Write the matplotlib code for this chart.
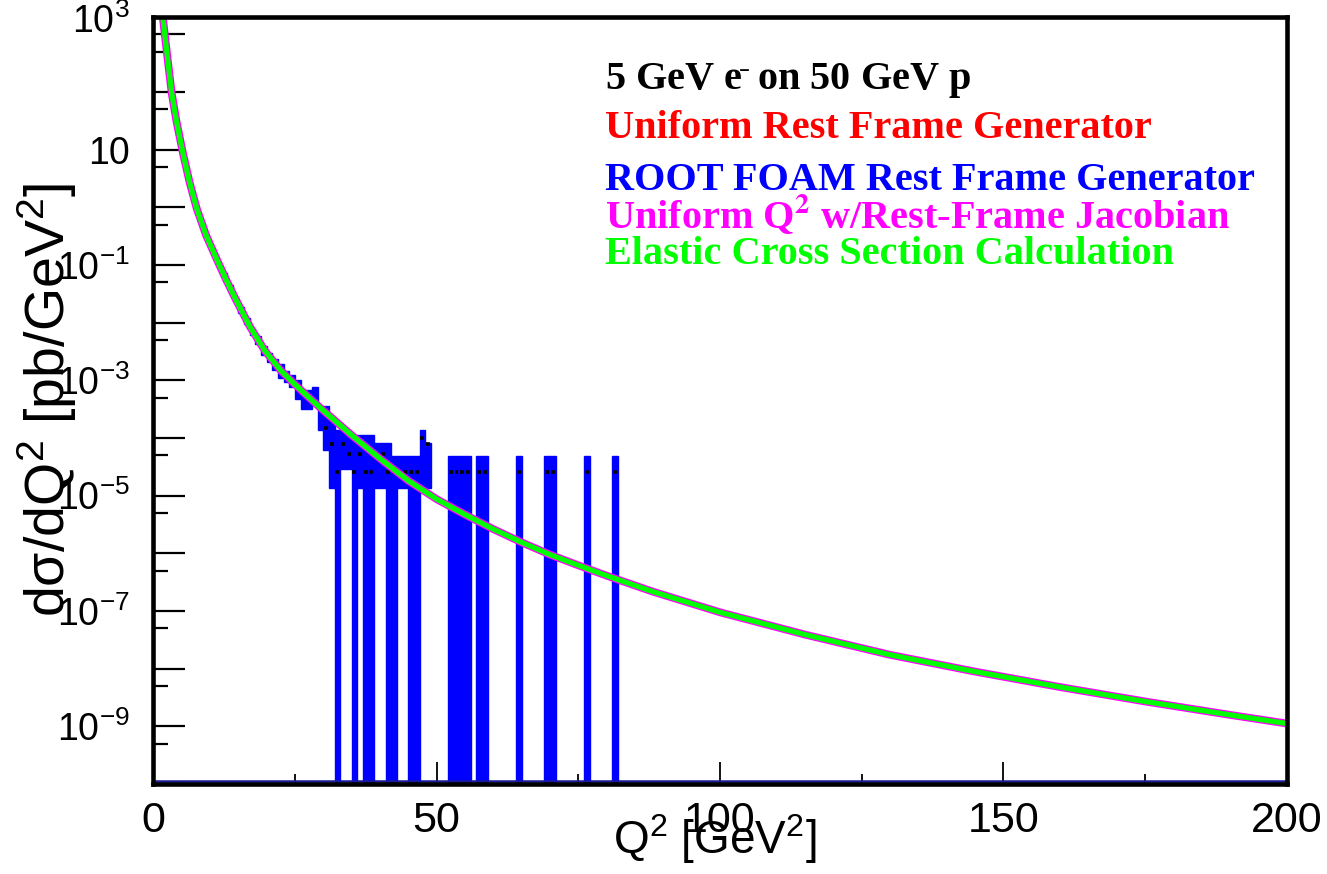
import numpy as np
import matplotlib
matplotlib.use("Agg")
import matplotlib.pyplot as plt
from matplotlib.ticker import LogLocator, FuncFormatter, MultipleLocator, NullFormatter
from matplotlib.transforms import offset_copy, blended_transform_factory

# ---------------- data ----------------
# Elastic cross section curve (Q^2 in GeV^2, dsigma/dQ^2 in pb/GeV^2)
curve_q2 = [1.3, 1.7, 2.33, 3.25, 4.09, 5.19, 6.39, 7.66, 9.3, 11.29, 12.83,
            14.42, 17.06, 19.71, 22.5, 25.0, 27.5, 30.0, 35.0, 40.0, 45.0,
            50.0, 55.0, 60.0, 65.0, 70.0, 75.0, 80.0, 88.0, 100.0, 115.0,
            130.0, 145.0, 160.0, 175.0, 190.0, 200.0]
curve_val = [4.2e3, 1.9e3, 550.0, 95.0, 31.0, 9.1, 2.75, 0.955, 0.331, 0.120,
             5.62e-2, 2.69e-2, 8.5e-3, 3.24e-3, 1.48e-3, 8.5e-4, 5.0e-4, 3.0e-4,
             1.12e-4, 4.4e-5, 1.82e-5, 8.7e-6, 4.7e-6, 2.63e-6, 1.55e-6, 9.5e-7,
             6.2e-7, 4.1e-7, 2.19e-7, 9.5e-8, 3.9e-8, 1.74e-8, 8.9e-9, 4.8e-9,
             2.7e-9, 1.58e-9, 1.12e-9]

# ROOT FOAM generator histogram: error boxes per 1 GeV^2 bin (lower edge, box low, box high)
foam_bin = [12, 13, 14, 15, 16, 17, 18, 19, 20, 21, 22, 23, 24, 25, 26, 27, 28,
            29, 30, 31, 32, 33, 34, 35, 36, 37, 38, 39, 40, 41, 42, 43, 44, 45,
            46, 47, 48, 52, 53, 54, 55, 57, 58, 64, 69, 70, 76, 81]
foam_low = [6.5e-2, 4.0e-2, 2.4e-2, 1.5e-2, 9.5e-3, 6.0e-3, 4.2e-3, 2.8e-3,
            2.1e-3, 1.5e-3, 1.1e-3, 9.5e-4, 7.8e-4, 4.7e-4, 3.2e-4, 3.2e-4,
            4.2e-4, 1.4e-4, 6.3e-5, 1.35e-5, 1e-12, 2.9e-5, 2.9e-5, 1e-12,
            1.35e-5, 1e-12, 1e-12, 1.35e-5, 1.35e-5, 1e-12, 1e-12, 1.35e-5,
            1.35e-5, 1e-12, 1e-12, 1.35e-5, 1.35e-5, 1e-12, 1e-12, 1e-12, 1e-12,
            1e-12, 1e-12, 1e-12, 1e-12, 1e-12, 1e-12, 1e-12]
foam_high = [7.2e-2, 4.5e-2, 2.8e-2, 1.86e-2, 1.2e-2, 7.9e-3, 5.8e-3, 4.0e-3,
             3.0e-3, 2.3e-3, 1.9e-3, 1.45e-3, 1.26e-3, 1.02e-3, 6.9e-4, 6.9e-4,
             7.8e-4, 3.5e-4, 3.6e-4, 1.95e-4, 1.4e-4, 1.4e-4, 1.15e-4, 1.15e-4,
             1.15e-4, 1.15e-4, 1.15e-4, 8.1e-5, 8.1e-5, 8.1e-5, 4.8e-5, 4.8e-5,
             4.8e-5, 4.8e-5, 4.8e-5, 1.4e-4, 8.1e-5, 4.8e-5, 4.8e-5, 4.8e-5,
             4.8e-5, 4.8e-5, 4.8e-5, 4.8e-5, 4.8e-5, 4.8e-5, 4.8e-5, 4.8e-5]

# black bin-content markers
mark_q2 = [30.5, 31.5, 32.5, 33.5, 34.5, 35.5, 36.5, 37.5, 38.5, 39.5, 40.5,
           41.5, 42.5, 43.5, 44.5, 45.5, 46.5, 47.5, 48.5, 52.5, 53.5, 54.5,
           55.5, 57.5, 58.5, 64.5, 69.5, 70.5, 76.5, 81.5]
mark_val = [1.5e-4, 7.8e-5, 2.6e-5, 7.8e-5, 5.2e-5, 2.6e-5, 5.2e-5, 2.6e-5,
            2.6e-5, 5.2e-5, 5.2e-5, 2.6e-5, 2.6e-5, 2.6e-5, 2.6e-5, 2.6e-5,
            2.6e-5, 1.0e-4, 7.8e-5, 2.6e-5, 2.6e-5, 2.6e-5, 2.6e-5, 2.6e-5,
            2.6e-5, 2.6e-5, 2.6e-5, 2.6e-5, 2.6e-5, 2.6e-5]

x_range = (0, 200)
y_range = (1e-10, 2000)
x_label = r"Q$^2$ [GeV$^2$]"
y_label = r"dσ/dQ$^2$ [pb/GeV$^2$]"
legend_lines = [
    ("5 GeV e$^{\\bar{\\,}}$ on 50 GeV p", "black"),
    ("Uniform Rest Frame Generator", "#ff0000"),
    ("ROOT FOAM Rest Frame Generator", "#0000ff"),
    ("Uniform Q$^{\\mathbf{2}}$ w/Rest-Frame Jacobian", "#ff00ff"),
    ("Elastic Cross Section Calculation", "#00ff00"),
]

# ---------------- figure ----------------
plt.rcParams["font.family"] = ["Liberation Sans", "DejaVu Sans"]
plt.rcParams["mathtext.fontset"] = "custom"
plt.rcParams["mathtext.rm"] = "Liberation Sans"
plt.rcParams["mathtext.it"] = "Liberation Sans:italic"
plt.rcParams["mathtext.bf"] = "Liberation Sans:bold"

W, H = 1327, 874
fig = plt.figure(figsize=(W / 100, H / 100), dpi=100)
L, R, T, B = 153.3, 1286.7, 17, 784
ax = fig.add_axes([L / W, (H - B) / H, (R - L) / W, (B - T) / H])
ax.set_yscale("log")
ax.set_xlim(*x_range)
ax.set_ylim(*y_range)

# FOAM histogram error boxes
lo = np.array(foam_low)
hi = np.array(foam_high)
ax.bar(foam_bin, hi - lo, bottom=lo, width=1.0, align="edge",
       color="#0000ff", edgecolor="#0000ff", linewidth=1.0, zorder=2)
# empty bins drawn along the bottom
blue_tr = offset_copy(ax.transData, fig=fig, x=0, y=3.0, units="dots")
ax.plot(x_range, [y_range[0], y_range[0]], color="#1a1a9a", lw=1.8,
        transform=blue_tr, zorder=2, clip_on=False)

# black markers
for q, v in zip(mark_q2, mark_val):
    ax.plot([q - 0.35, q + 0.35], [v, v], color="black", lw=2.6, zorder=3,
            solid_capstyle="butt")

# Uniform generators (underneath) and elastic calculation
ax.plot(curve_q2, curve_val, color="#ff00ff", lw=5.6, zorder=4,
        solid_capstyle="butt", solid_joinstyle="round")
ax.plot(curve_q2, curve_val, color="#00ff00", lw=3.8, zorder=5,
        solid_capstyle="butt", solid_joinstyle="round")

# axes styling
for s in ax.spines.values():
    s.set_linewidth(3.3)
    s.set_zorder(10)

ax.xaxis.set_major_locator(MultipleLocator(50))
ax.xaxis.set_minor_locator(MultipleLocator(25))
ax.yaxis.set_major_locator(LogLocator(base=10, numticks=30))
ax.yaxis.set_minor_locator(LogLocator(base=10, subs=[5.0], numticks=30))
ax.yaxis.set_minor_formatter(NullFormatter())


def ylabel_text(e):
    if e == 1:
        return "10"
    return r"$\mathregular{10^{%d}}$" % e


def yfmt(v, pos):
    e = int(round(np.log10(v)))
    if e % 2 == 0 or e == 3:
        return ""
    return ylabel_text(e)


ax.yaxis.set_major_formatter(FuncFormatter(yfmt))
ax.xaxis.set_major_formatter(FuncFormatter(lambda v, p: "%d" % v))

ylab_size = 27
ypad = 17
ax.tick_params(axis="y", which="major", direction="in", length=23, width=1.6,
               labelsize=ylab_size, pad=ypad, right=False)
ax.tick_params(axis="y", which="minor", direction="in", length=11, width=1.6,
               right=False)
ax.tick_params(axis="x", which="major", direction="in", length=16, width=1.3,
               labelsize=31, pad=12, top=False)
ax.tick_params(axis="x", which="minor", direction="in", length=7.5, width=1.3,
               top=False)

# top label (ROOT draws it shifted up inside the frame height)
top_tr = offset_copy(blended_transform_factory(ax.transAxes, ax.transData),
                     fig=fig, x=-ypad * 100 / 72, y=12, units="dots")
ax.text(0, 1e3, ylabel_text(3), transform=top_tr, ha="right", va="center",
        fontsize=ylab_size)

ax.set_xlabel(x_label, fontsize=33)
ax.xaxis.set_label_coords((715 - L) / (R - L), -(812 - B) / (B - T))
ax.set_ylabel(y_label, fontsize=40, va="center")
ax.yaxis.set_label_coords(-(L - 47) / (R - L), (B - 400) / (B - T))

# legend text
ys = [80, 129, 180, 215, 254]
for (txt, col), yy in zip(legend_lines, ys):
    fig.text(605 / W, 1 - yy / H, txt, color=col, fontsize=29,
             fontweight="bold", va="center", ha="left",
             family=["Liberation Serif", "DejaVu Serif"],
             math_fontfamily="stix")

fig.savefig("out.png", dpi=100)
